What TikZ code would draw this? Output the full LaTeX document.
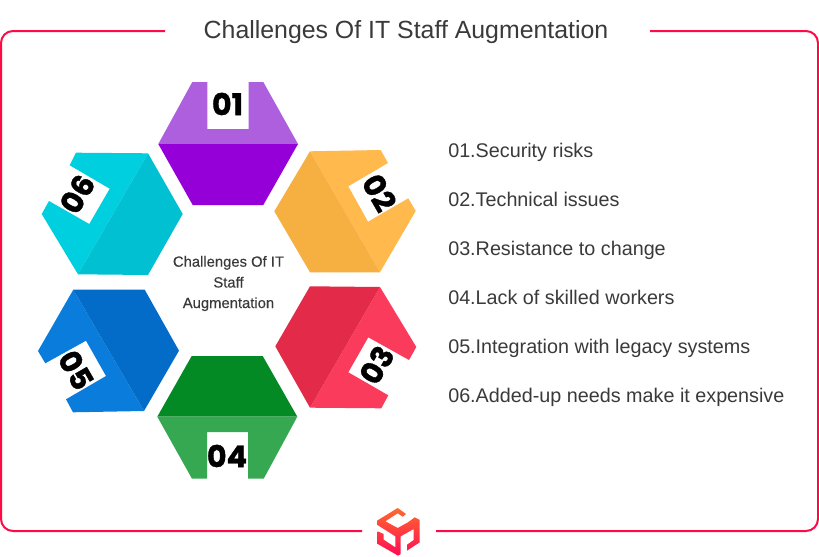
\documentclass[tikz,border=0pt]{standalone}
\usepackage{fontspec}
\setmainfont{Liberation Sans}
\newfontfamily\numfont{Poppins}[BoldFeatures={FakeBold=1.2}]
\newfontfamily\medfont{Liberation Sans}[FakeBold=0.25]
\definecolor{framered}{HTML}{FF0A47}
\definecolor{textgrey}{HTML}{3A3A3A}
\definecolor{purpleL}{HTML}{AE5FDD}\definecolor{purpleD}{HTML}{9500D9}
\definecolor{orangeL}{HTML}{FFB94D}\definecolor{orangeD}{HTML}{F5B041}
\definecolor{redL}{HTML}{FB3B5B}\definecolor{redD}{HTML}{E32B49}
\definecolor{greenL}{HTML}{36A852}\definecolor{greenD}{HTML}{038A25}
\definecolor{blueL}{HTML}{0A7DDC}\definecolor{blueD}{HTML}{036CC8}
\definecolor{cyanL}{HTML}{00CFDF}\definecolor{cyanD}{HTML}{00C0D2}
\definecolor{logoTop}{HTML}{FF6A2E}\definecolor{logoBot}{HTML}{FF0A55}
\tikzset{
  frameline/.style={draw=framered,line width=1.5pt},
  numlabel/.style={font=\numfont\bfseries\fontsize{22.6}{25}\selectfont,text=black,inner sep=0pt},
  listitem/.style={anchor=base west,inner sep=0pt,text=textgrey,font=\fontsize{14.82}{17}\selectfont},
  centerlabel/.style={anchor=base,inner sep=0pt,text=textgrey,font=\medfont\fontsize{11.1}{13}\selectfont},
}
\begin{document}
\begin{tikzpicture}[x=0.75pt,y=-0.75pt]
\useasboundingbox (0,0) rectangle (819,557);
\fill[white] (0,0) rectangle (819,557);

% Frame, open behind the title and the logo
\coordinate (tl) at (165,31);
\coordinate (tr) at (650,31);
\coordinate (bl) at (362,531);
\coordinate (br) at (436,531);
\draw[frameline,rounded corners=9pt] (tl) -- (1,31) -- (1,531) -- (bl);
\draw[frameline,rounded corners=9pt] (tr) -- (818,31) -- (818,531) -- (br);
\node[anchor=base,inner sep=0pt,text=textgrey,font=\fontsize{18.65}{21}\selectfont] (title) at (406,38.5) {Challenges Of IT Staff Augmentation};

% Hexagon 01
\fill[purpleL] (192.3,82) -- (207.3,82) -- (207.3,129) -- (248.7,129) -- (248.7,82) -- (263.3,82) -- (298,144) -- (158.3,144) -- cycle;
\fill[purpleD] (158.3,144) -- (298,144) -- (263.3,205) -- (192.7,205) -- cycle;
\node[numlabel] (n1) at (227.5,104) {01};

% Hexagon 02
\fill[orangeL] (310,151.3) -- (380.7,150) -- (388,163) -- (348.3,186.3) -- (368,221.7) -- (408.3,198.3) -- (415.7,211) -- (380,272.3) -- cycle;
\fill[orangeD] (310,151.3) -- (380,272.3) -- (310,272.3) -- (274.3,211.3) -- cycle;
\node[numlabel,rotate=-60] (n2) at (379.3,192.7) {02};

% Hexagon 03
\fill[redL] (380,287) -- (416.3,347) -- (409,360) -- (368.3,337.3) -- (348.3,372.3) -- (388.3,395.3) -- (381.3,408.3) -- (310,407.7) -- cycle;
\fill[redD] (310,286.3) -- (380,287) -- (310,407.7) -- (275.3,346.3) -- cycle;
\node[numlabel,rotate=60] (n3) at (376.7,365) {03};

% Hexagon 04
\fill[greenD] (191.7,356) -- (262.7,356) -- (297.3,416.7) -- (157.3,416.7) -- cycle;
\fill[greenL] (157.3,416.7) -- (297.3,416.7) -- (263.7,478.7) -- (248,478.7) -- (248,432) -- (207,432) -- (207,478.7) -- (192,478.7) -- cycle;
\node[numlabel] (n4) at (227,456) {04};

% Hexagon 05
\fill[blueL] (73.3,289.7) -- (144,411) -- (73,412.3) -- (66,399.3) -- (106,376) -- (86,340.7) -- (45.3,363.3) -- (38,351) -- cycle;
\fill[blueD] (73.3,289.7) -- (144.7,289.7) -- (179,350.7) -- (144,411) -- cycle;
\node[numlabel,rotate=-60] (n5) at (76,370) {05};

% Hexagon 06
\fill[cyanL] (76,152.7) -- (148,153.3) -- (78,274.3) -- (41.7,214) -- (49,201) -- (89.3,224) -- (109.7,188.7) -- (69.7,165.3) -- cycle;
\fill[cyanD] (148,153.3) -- (182.7,214) -- (148,275) -- (78,274.3) -- cycle;
\node[numlabel,rotate=60] (n6) at (77.3,194) {06};

% Central caption
\node[centerlabel] (c1) at (228.5,266.7) {Challenges Of IT};
\node[centerlabel] (c2) at (228.5,287.5) {Staff};
\node[centerlabel] (c3) at (228.5,308) {Augmentation};

% List of challenges
\node[listitem] (l1) at (448,157) {01.Security risks};
\node[listitem] (l2) at (448,206) {02.Technical issues};
\node[listitem] (l3) at (448,255) {03.Resistance to change};
\node[listitem] (l4) at (448,304) {04.Lack of skilled workers};
\node[listitem] (l5) at (448,353) {05.Integration with legacy systems};
\node[listitem] (l6) at (448,402) {06.Added-up needs make it expensive};

% Cube logo, faces sharing one vertical gradient
\begin{scope}
\clip (397.7,508) -- (406,514) -- (402.7,516.7) -- (397.7,513.3) -- (385.3,521.3) -- (397.7,528) -- (408,522.3) -- (414.7,517.3) -- (419.7,520) -- (419.7,542.3) -- (407,550.7) -- (407,544.7) -- (413.7,540) -- (413.7,529) -- (400.7,536.3) -- (400.7,554) -- (398,555.7) -- (395.3,554) -- (395.3,536.3) -- (377,524.7) -- (377,520.7) -- cycle
  (377.7,531.3) -- (383.7,534) -- (383.7,539.7) -- (395.3,547.3) -- (395.3,554) -- (377.7,544) -- cycle;
\shade[top color=logoTop,bottom color=logoBot] (376,507) rectangle (421,557);
\end{scope}
\end{tikzpicture}
\end{document}
